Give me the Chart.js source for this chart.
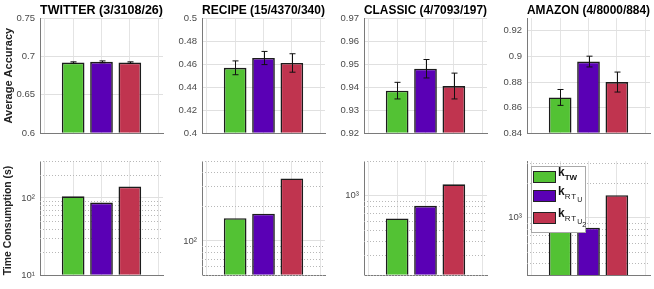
<!DOCTYPE html>
<html>
<head>
<meta charset="utf-8">
<script src="https://cdn.jsdelivr.net/npm/chart.js@4.4.0/dist/chart.umd.min.js"></script>
<style>
body { margin: 0; background: #fff; }
#wrap { position: relative; width: 654px; height: 289px; overflow: hidden; background: #fff; font-family: "Liberation Sans", Arial, sans-serif; }
canvas { position: absolute; }
#legend { position: absolute; left: 531px; top: 166px; width: 55px; height: 67px; background: #fff; border: 1px solid #a8a8a8; box-sizing: border-box; }
.item { position: absolute; left: 1px; height: 13px; }
.swatch { position: absolute; left: 0; top: 0; width: 23px; height: 12px; border: 1.5px solid #222; box-sizing: border-box; }
.lab { position: absolute; left: 25px; top: -5px; font-weight: bold; font-size: 12px; color: #111; white-space: nowrap; line-height: 12px; }
.lab sub { font-size: 8px; vertical-align: -4px; font-weight: bold; }
.lab sub.rt { font-weight: normal; letter-spacing: 1px; }
.lab sub sub { font-size: 7px; vertical-align: -3px; font-weight: normal; letter-spacing: 0; }
</style>
</head>
<body>
<div id="wrap"></div>
<script>
// datasets and methods
let titles = ['TWITTER (3/3108/26)', 'RECIPE (15/4370/340)', 'CLASSIC (4/7093/197)', 'AMAZON (4/8000/884)'];
let methods = ['k_TW', 'k_RTU', 'k_RTU2'];
let colors = ['#53c234', '#5a00b5', '#c0344f'];
let xPos = [1, 2, 3];

// average accuracy (top row)
let accTwitter = [0.692, 0.693, 0.692];
let accRecipe = [0.4568, 0.4653, 0.461];
let accClassic = [0.9385, 0.948, 0.9405];
let accAmazon = [0.868, 0.896, 0.880];
let errTwitter = [0.001, 0.0012, 0.001];
let errRecipe = [0.006, 0.0057, 0.008];
let errClassic = [0.0036, 0.004, 0.0056];
let errAmazon = [0.0062, 0.0042, 0.0078];
let accRange = [[0.6, 0.75], [0.4, 0.5], [0.92, 0.97], [0.84, 0.93]];
let accTicks = [
  [0.6, 0.65, 0.7, 0.75],
  [0.4, 0.42, 0.44, 0.46, 0.48, 0.5],
  [0.92, 0.93, 0.94, 0.95, 0.96, 0.97],
  [0.84, 0.86, 0.88, 0.9, 0.92]
];

// time consumption in seconds (bottom row, log scale)
let timeTwitter = [105, 87, 140];
let timeRecipe = [158, 173, 352];
let timeClassic = [628, 811, 1249];
let timeAmazon = [760, 817, 1570];
let timeRange = [[10, 300], [50, 500], [200, 2000], [313, 3130]];
let timeTicks = [[10, 100], [100], [1000], [1000]];

let accData = [accTwitter, accRecipe, accClassic, accAmazon];
let errData = [errTwitter, errRecipe, errClassic, errAmazon];
let timeData = [timeTwitter, timeRecipe, timeClassic, timeAmazon];

Chart.defaults.font.family = '"Liberation Sans", Arial, Helvetica, sans-serif';
Chart.defaults.color = '#4a4a4a';

let plotLeft = [40, 202, 364, 527];
let sup = {1: '\u00b9', 2: '\u00b2', 3: '\u00b3'};

const errorBars = {
  id: 'errorBars',
  afterDatasetsDraw(chart, args, opts) {
    if (!opts.err) return;
    const meta = chart.getDatasetMeta(0);
    const y = chart.scales.y;
    const ctx = chart.ctx;
    ctx.save();
    ctx.strokeStyle = '#111';
    ctx.lineWidth = 1;
    meta.data.forEach((bar, i) => {
      const v = chart.data.datasets[0].data[i].y;
      const e = opts.err[i];
      const x = Math.round(bar.x) + 0.5;
      const top = y.getPixelForValue(v + e);
      const bot = y.getPixelForValue(v - e);
      ctx.beginPath();
      ctx.moveTo(x, top); ctx.lineTo(x, bot);
      ctx.moveTo(x - 3, top); ctx.lineTo(x + 3, top);
      ctx.moveTo(x - 3, bot); ctx.lineTo(x + 3, bot);
      ctx.stroke();
    });
    ctx.restore();
  }
};

const minorGrid = {
  id: 'minorGrid',
  beforeDatasetsDraw(chart) {
    const y = chart.scales.y;
    if (y.type !== 'logarithmic') return;
    const {left, right} = chart.chartArea;
    const ctx = chart.ctx;
    ctx.save();
    ctx.strokeStyle = '#b8b8b8';
    ctx.lineWidth = 1;
    ctx.setLineDash([1, 2]);
    y.ticks.forEach(t => {
      if (t.major) return;
      const py = Math.round(y.getPixelForValue(t.value)) + 0.5;
      ctx.beginPath();
      ctx.moveTo(left, py); ctx.lineTo(right, py);
      ctx.stroke();
    });
    ctx.restore();
  }
};

function makeChart(row, i) {
  const wrap = document.getElementById('wrap');
  const c = document.createElement('canvas');
  const top = row === 0 ? 0 : 150;
  const h = row === 0 ? 144 : 136;
  c.width = 167; c.height = h;
  c.style.left = (plotLeft[i] - 40) + 'px';
  c.style.top = top + 'px';
  c.style.width = '167px'; c.style.height = h + 'px';
  wrap.appendChild(c);

  const isLog = row === 1;
  const vals = isLog ? timeData[i] : accData[i];
  const range = isLog ? timeRange[i] : accRange[i];
  const ticks = isLog ? timeTicks[i] : accTicks[i];

  let yTicks;
  if (isLog) {
    yTicks = [];
    for (let e = Math.floor(Math.log10(range[0])); e <= Math.ceil(Math.log10(range[1])); e++) {
      for (let m = 1; m <= 9; m++) {
        const v = m * Math.pow(10, e);
        if (v >= range[0] - 1e-9 && v <= range[1] + 1e-9) yTicks.push({value: v, major: ticks.includes(v)});
      }
    }
  } else {
    yTicks = ticks.map(v => ({value: v, major: true}));
  }

  new Chart(c, {
    type: 'bar',
    data: {
      datasets: [{
        data: xPos.map((x, k) => ({x: x, y: vals[k]})),
        backgroundColor: colors,
        borderColor: '#1c1c1c',
        borderWidth: 1.6,
        base: range[0],
        barPercentage: 0.8,
        categoryPercentage: 1
      }]
    },
    plugins: [errorBars, minorGrid],
    options: {
      responsive: false,
      animation: false,
      devicePixelRatio: 1,
      layout: { padding: { left: 0, right: 4, top: row === 0 ? 0 : 11, bottom: 8 } },
      plugins: {
        legend: { display: false },
        tooltip: { enabled: false },
        title: {
          display: row === 0,
          text: titles[i],
          fullSize: false,
          color: '#000',
          font: { size: 12.5, weight: 'bold' },
          padding: { top: 3, bottom: 0 }
        },
        errorBars: { err: row === 0 ? errData[i] : null }
      },
      scales: {
        x: {
          type: 'linear',
          offset: false,
          min: -0.17,
          max: 4.17,
          afterBuildTicks: s => { s.ticks = [0, 1, 2, 3, 4].map(v => ({value: v})); },
          ticks: { display: false },
          grid: { color: '#e4e4e4', drawTicks: false, offset: false },
          border: { color: '#7a7a7a' },
          afterFit: s => { s.height = 0; }
        },
        y: {
          type: isLog ? 'logarithmic' : 'linear',
          min: range[0],
          max: range[1],
          afterBuildTicks: s => { s.ticks = yTicks.map(t => ({value: t.value, major: t.major})); },
          afterFit: s => { s.width = 40; },
          ticks: {
            autoSkip: false,
            padding: 5,
            font: { size: 9.5 },
            color: '#4a4a4a',
            callback: v => {
              if (!isLog) return String(v);
              if (!ticks.includes(v)) return '';
              return '10' + sup[Math.round(Math.log10(v))];
            }
          },
          grid: {
            drawTicks: false,
            color: ctx => (ctx.tick && ctx.tick.major) ? '#e0e0e0' : 'rgba(0,0,0,0)'
          },
          border: { color: '#7a7a7a' },
          title: {
            display: i === 0,
            text: row === 0 ? 'Average Accuracy' : 'Time Consumption (s)',
            align: row === 0 ? 'center' : 'start',
            color: '#222',
            font: { size: row === 0 ? 11 : 10.4, weight: 'bold' },
            padding: { top: 2, bottom: 0 }
          }
        }
      }
    }
  });
}

for (let row = 0; row < 2; row++) {
  for (let i = 0; i < 4; i++) makeChart(row, i);
}

// legend (inside the AMAZON time panel)
const legend = document.createElement('div');
legend.id = 'legend';
const legendTops = [4, 23, 45];
const legendHtml = [
  'k<sub>TW</sub>',
  'k<sub class="rt">RT<sub>U</sub></sub>',
  'k<sub class="rt">RT<sub>U<sub>2</sub></sub></sub>'
];
methods.forEach((m, k) => {
  const it = document.createElement('div');
  it.className = 'item';
  it.style.top = legendTops[k] + 'px';
  it.innerHTML = '<div class="swatch" style="background:' + colors[k] + '"></div><div class="lab">' + legendHtml[k] + '</div>';
  legend.appendChild(it);
});
document.getElementById('wrap').appendChild(legend);
</script>
</body>
</html>
